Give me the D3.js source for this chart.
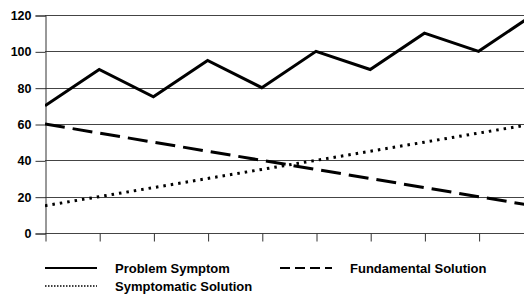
<!DOCTYPE html>
<html>
<head>
<meta charset="utf-8">
<script src="https://cdn.jsdelivr.net/npm/d3@7"></script>
<style>
  body { margin: 0; background: #fff; }
  text { font-family: "Liberation Sans", Arial, sans-serif; font-weight: bold; }
</style>
</head>
<body>
<div id="chart"></div>
<script>
let periods = [1, 2, 3, 4, 5, 6, 7, 8, 9, 10];
let problemSymptom = [70, 90, 75, 95, 80, 100, 90, 110, 100, 120];
let fundamentalSolution = [60, 55, 50, 45, 40, 35, 30, 25, 20, 15];
let symptomaticSolution = [15, 20, 25, 30, 35, 40, 45, 50, 55, 60];
let yTicks = [0, 20, 40, 60, 80, 100, 120];

let svgWidth = 524;
let svgHeight = 295;

let margin = { top: 15, right: 0, bottom: 62, left: 45 };
let height = svgHeight - margin.top - margin.bottom;
let step = 54.2;

let svg = d3.select("#chart")
  .append("svg")
  .attr("width", svgWidth)
  .attr("height", svgHeight);

let chartGroup = svg.append("g")
  .attr("transform", `translate(${margin.left}, ${margin.top})`);

let xScale = d3.scaleLinear()
  .domain([1, 10])
  .range([0, step * 9]);

let yScale = d3.scaleLinear()
  .domain([0, 120])
  .range([height, 0]);

// clip so the last period runs off the right edge like the original
svg.append("clipPath").attr("id", "plot")
  .append("rect")
  .attr("x", 0).attr("y", -5)
  .attr("width", svgWidth - margin.left).attr("height", height + 10);

// gridlines
chartGroup.append("g")
  .selectAll("line")
  .data(yTicks)
  .enter()
  .append("line")
  .attr("x1", 0)
  .attr("x2", svgWidth - margin.left)
  .attr("y1", d => Math.round(yScale(d)) + 0.5)
  .attr("y2", d => Math.round(yScale(d)) + 0.5)
  .attr("stroke", "#444")
  .attr("stroke-width", 1);

// y axis
let leftAxis = d3.axisLeft(yScale).tickValues(yTicks).tickSize(10).tickPadding(4);
let yAxis = chartGroup.append("g")
  .attr("transform", "translate(0.5,0.5)")
  .call(leftAxis);
yAxis.select(".domain").attr("stroke", "#333");
yAxis.selectAll(".tick line").attr("stroke", "#333");
yAxis.selectAll("text")
  .style("font-size", "12.5px")
  .attr("fill", "#000")
  .style("font-family", "'Liberation Sans', Arial, sans-serif")
  .style("font-weight", "bold");

// x axis ticks (no labels)
let bottomAxis = d3.axisBottom(xScale).tickValues(periods.slice(0, 9)).tickSize(8).tickFormat("");
let xAxis = chartGroup.append("g")
  .attr("transform", `translate(0.5, ${height + 0.5})`)
  .call(bottomAxis);
xAxis.select(".domain").remove();
xAxis.selectAll(".tick line").attr("stroke", "#333");

let line = d3.line()
  .x((d, i) => xScale(periods[i]))
  .y(d => yScale(d));

let lines = chartGroup.append("g").attr("clip-path", "url(#plot)");

lines.append("path")
  .attr("d", line(fundamentalSolution))
  .attr("fill", "none")
  .attr("stroke", "#000")
  .attr("stroke-width", 3)
  .attr("stroke-dasharray", "20,8");

lines.append("path")
  .attr("d", line(symptomaticSolution))
  .attr("fill", "none")
  .attr("stroke", "#000")
  .attr("stroke-width", 3)
  .attr("stroke-dasharray", "2.5,5");

lines.append("path")
  .attr("d", line(problemSymptom))
  .attr("fill", "none")
  .attr("stroke", "#000")
  .attr("stroke-width", 3)
  .attr("stroke-linejoin", "miter");

// legend
let legendItems = [
  { name: "Problem Symptom", x: 45, y: 268, dash: null, w: 2 },
  { name: "Fundamental Solution", x: 280, y: 268, dash: "10,5", w: 2 },
  { name: "Symptomatic Solution", x: 45, y: 286, dash: "1.5,1.5", w: 1.5 }
];

let legend = svg.append("g");
legendItems.forEach(function(item) {
  legend.append("line")
    .attr("x1", item.x)
    .attr("x2", item.x + 52)
    .attr("y1", item.y)
    .attr("y2", item.y)
    .attr("stroke", "#000")
    .attr("stroke-width", item.w)
    .attr("stroke-dasharray", item.dash);
  legend.append("text")
    .attr("x", item.x + 70)
    .attr("y", item.y + 5)
    .style("font-size", "13px")
    .text(item.name);
});
</script>
</body>
</html>
